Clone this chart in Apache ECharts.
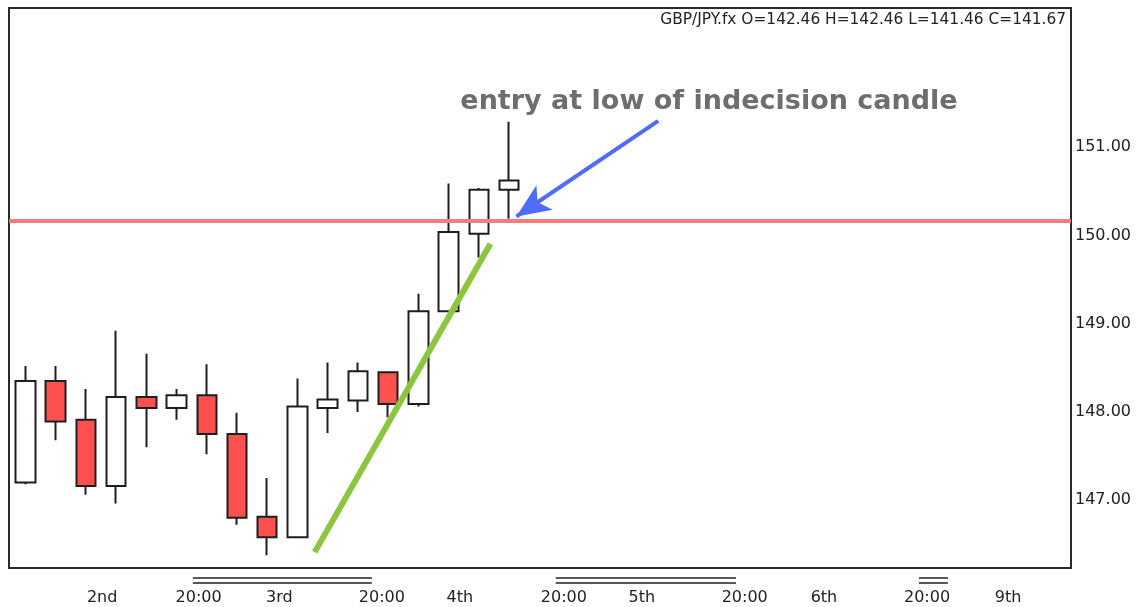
<!DOCTYPE html>
<html lang="en">
<head>
<meta charset="UTF-8">
<title>GBP/JPY.fx</title>
<script src="https://cdn.jsdelivr.net/npm/echarts@6/dist/echarts.min.js"></script>
<style>
    html, body { margin: 0; padding: 0; background: #fff; }
    #main { width: 1136px; height: 607px; }
</style>
</head>
<body>
<div id="main"></div>
<script>
    // candles (4h)
    var opens  = [147.20, 148.35, 147.91, 147.16, 148.17, 148.045, 148.19, 147.75, 146.81, 146.58, 148.045, 148.13, 148.45, 148.09, 149.14, 150.02, 150.52];
    var closes = [148.35, 147.89, 147.16, 148.17, 148.045, 148.19, 147.75, 146.80, 146.58, 148.06, 148.14, 148.46, 148.09, 149.14, 150.04, 150.52, 150.625];
    var lows   = [147.18, 147.68, 147.06, 146.96, 147.60, 147.91, 147.52, 146.72, 146.375, 146.58, 147.76, 148.00, 147.94, 148.06, 149.14, 149.75, 150.19];
    var highs  = [148.52, 148.52, 148.26, 148.92, 148.66, 148.26, 148.54, 147.99, 147.25, 148.38, 148.56, 148.56, 148.45, 149.34, 150.59, 150.54, 151.29];

    // x axis labels (position in candle units)
    var xLabelPos  = [2.54, 5.73, 8.40, 11.79, 14.37, 17.81, 20.39, 23.79, 26.41, 29.82, 32.50];
    var xLabelText = ['2nd', '20:00', '3rd', '20:00', '4th', '20:00', '5th', '20:00', '6th', '20:00', '9th'];
    var yTicks = [147, 148, 149, 150, 151];

    // session bars under the axis [from, to]
    var sessionSpans = [[5.54, 11.46], [17.54, 23.50], [29.55, 30.51]];

    // drawings
    var entryLevel = 150.17;
    var trendFrom = [9.57, 146.41];
    var trendTo   = [15.38, 149.906];
    var arrowFrom = [20.93, 151.30];
    var arrowTo   = [16.24, 150.216];

    var xMin = -0.54, xMax = 34.58, yMin = 146.23, yMax = 152.58;

    var candleData = [];
    for (var i = 0; i < opens.length; i++) {
        candleData.push([i, opens[i], closes[i], lows[i], highs[i]]);
    }

    var chart = echarts.init(document.getElementById('main'));
    var option = {
        animation: false,
        grid: {
            left: 9, right: 65, top: 8, bottom: 39,
            show: true, borderColor: '#2a2a2a', borderWidth: 2, backgroundColor: '#fff'
        },
        xAxis: {
            type: 'value',
            min: xMin, max: xMax,
            axisLine: {show: false},
            axisTick: {show: false},
            splitLine: {show: false},
            axisLabel: {
                customValues: xLabelPos,
                margin: 22,
                color: '#222',
                fontFamily: 'DejaVu Sans',
                fontSize: 16,
                formatter: function (v) {
                    for (var k = 0; k < xLabelPos.length; k++) {
                        if (Math.abs(xLabelPos[k] - v) < 0.01) return xLabelText[k];
                    }
                    return '';
                }
            }
        },
        yAxis: {
            type: 'value',
            position: 'right',
            min: yMin, max: yMax,
            axisLine: {show: false},
            axisTick: {show: false},
            splitLine: {show: false},
            axisLabel: {
                customValues: yTicks,
                margin: 4,
                color: '#222',
                fontFamily: 'DejaVu Sans',
                fontSize: 16,
                formatter: function (v) { return v.toFixed(2); }
            }
        },
        graphic: [
            {
                type: 'text', right: 70, top: 12,
                style: {
                    text: 'GBP/JPY.fx O=142.46 H=142.46 L=141.46 C=141.67',
                    fill: '#222', font: '15.4px "DejaVu Sans"'
                }
            },
            {
                type: 'text', x: 709, y: 102,
                style: {
                    text: 'entry at low of indecision candle',
                    fill: '#6e6e6e', font: 'bold 27px "DejaVu Sans"',
                    align: 'center', verticalAlign: 'middle'
                }
            }
        ],
        series: [
            {
                type: 'candlestick',
                data: candleData,
                encode: {x: 0, y: [1, 2, 3, 4]},
                barWidth: 20,
                itemStyle: {
                    color: '#ffffff',
                    color0: '#ff5050',
                    borderColor: '#1e1e1e',
                    borderColor0: '#1e1e1e',
                    borderWidth: 2
                },
                markLine: {
                    silent: true,
                    animation: false,
                    symbol: ['none', 'none'],
                    label: {show: false},
                    data: [
                        {yAxis: entryLevel, lineStyle: {color: '#f47c7c', width: 4, type: 'solid'}},
                        [
                            {coord: trendFrom, lineStyle: {color: '#8cc63f', width: 6, type: 'solid'}},
                            {coord: trendTo}
                        ],
                        [
                            {coord: arrowFrom, symbol: 'none', lineStyle: {color: '#4e6cff', width: 4, type: 'solid'}},
                            {coord: arrowTo, symbol: 'arrow', symbolSize: [22, 34],
                             itemStyle: {color: '#4e6cff'}}
                        ]
                    ]
                }
            },
            {
                type: 'custom',
                silent: true,
                data: sessionSpans,
                encode: {x: [0, 1]},
                renderItem: function (params, api) {
                    var p0 = api.coord([api.value(0), yMin]);
                    var p1 = api.coord([api.value(1), yMin]);
                    var st = {stroke: '#222', lineWidth: 1.5};
                    return {
                        type: 'group',
                        children: [
                            {type: 'line', shape: {x1: p0[0], y1: p0[1] + 10, x2: p1[0], y2: p1[1] + 10}, style: st},
                            {type: 'line', shape: {x1: p0[0], y1: p0[1] + 15, x2: p1[0], y2: p1[1] + 15}, style: st}
                        ]
                    };
                }
            }
        ]
    };
    chart.setOption(option);
</script>
</body>
</html>
